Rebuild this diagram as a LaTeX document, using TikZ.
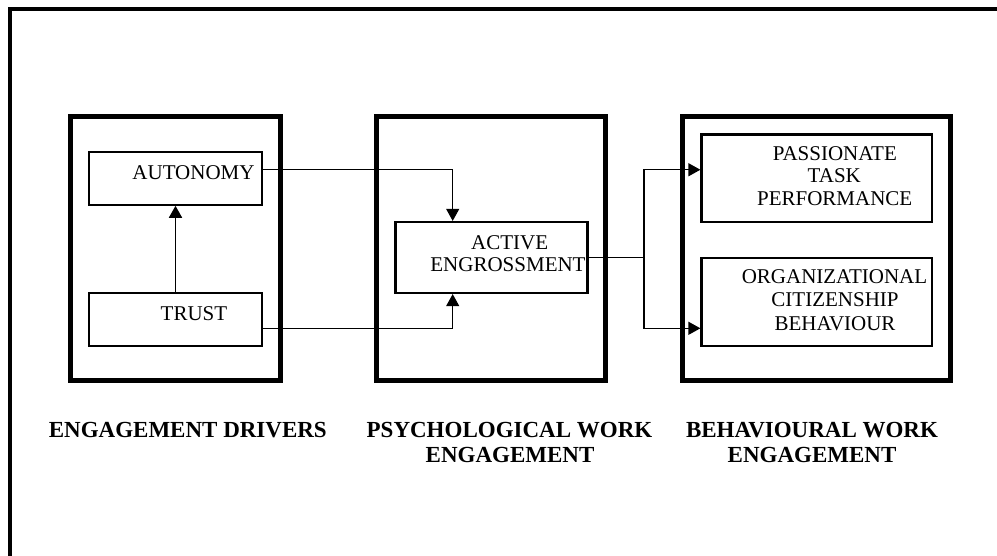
\documentclass[tikz,border=0pt]{standalone}
\usepackage{fontspec}
\setmainfont{Liberation Serif}
\usetikzlibrary{arrows.meta}
\tikzset{
  frame/.style={line width=4pt},
  group/.style={draw, line width=5pt, minimum width=#1, minimum height=263.5pt, inner sep=0pt},
  ibox/.style={draw, line width=2.2pt, inner sep=0pt},
  conn/.style={line width=1pt},
  tip/.style={-{Triangle[length=12pt,width=13pt]}},
  btxt/.style={anchor=base, inner sep=0pt, font=\fontsize{21pt}{22.5pt}\selectfont},
  ltxt/.style={anchor=base, inner sep=0pt, font=\bfseries\fontsize{23pt}{25.4pt}\selectfont}
}
\begin{document}
\begin{tikzpicture}[x=1pt,y=-1pt]
\useasboundingbox (0,0) rectangle (997,556);
\begin{scope}
\clip (0,0) rectangle (997,556);
\draw[frame] (10,8.7) rectangle (1012,570);
\end{scope}
% group boxes
\node[group=210pt] (g1) at (175,248.75) {};
\node[group=229pt] (g2) at (491,248.75) {};
\node[group=268.5pt] (g3) at (816.25,248.75) {};
% inner boxes
\node[ibox, minimum width=173pt, minimum height=53pt] (aut) at (175.5,178.2) {};
\node[ibox, minimum width=173pt, minimum height=53pt] (tru) at (175.5,319.5) {};
\node[ibox, minimum width=192pt, minimum height=71pt] (act) at (491.5,257.5) {};
\node[ibox, minimum width=230.5pt, minimum height=87.5pt] (ptp) at (816.75,178.25) {};
\node[ibox, minimum width=230.5pt, minimum height=88pt] (ocb) at (816.75,302) {};
% box texts
\node[btxt] (t-aut) at (193.5,180) {AUTONOMY};
\node[btxt] (t-tru) at (194,321) {TRUST};
\node[btxt] (t-act1) at (509.7,249.3) {ACTIVE};
\node[btxt] (t-act2) at (508,271.7) {ENGROSSMENT};
\node[btxt] (t-ptp1) at (834.8,160.7) {PASSIONATE};
\node[btxt] (t-ptp2) at (834.3,182.7) {TASK};
\node[btxt] (t-ptp3) at (834.7,205.7) {PERFORMANCE};
\node[btxt] (t-ocb1) at (834.5,284) {ORGANIZATIONAL};
\node[btxt] (t-ocb2) at (835,306.7) {CITIZENSHIP};
\node[btxt] (t-ocb3) at (835,330.5) {BEHAVIOUR};
% labels
\node[ltxt] (l1) at (187.8,437.3) {ENGAGEMENT DRIVERS};
\node[ltxt] (l2a) at (509.5,437.3) {PSYCHOLOGICAL WORK};
\node[ltxt] (l2b) at (510,462.7) {ENGAGEMENT};
\node[ltxt] (l3a) at (812,437.3) {BEHAVIOURAL WORK};
\node[ltxt] (l3b) at (812,462.7) {ENGAGEMENT};
% connectors
\draw[line width=1.8pt, tip] (tru.north) -- (aut.south);
\draw[conn, tip] ([yshift=8.9pt]aut.east) -| ([xshift=-38.8pt]act.north);
\draw[conn, tip] ([yshift=-9.2pt]tru.east) -| ([xshift=-38.8pt]act.south);
\coordinate (split) at (644,257.5);
\draw[conn] (act.east) -- (split);
\draw[conn, line width=1.2pt, tip] (split) |- ([yshift=8.5pt]ptp.west);
\draw[conn, line width=1.2pt, tip] (split) |- ([yshift=-26.3pt]ocb.west);
\end{tikzpicture}
\end{document}
